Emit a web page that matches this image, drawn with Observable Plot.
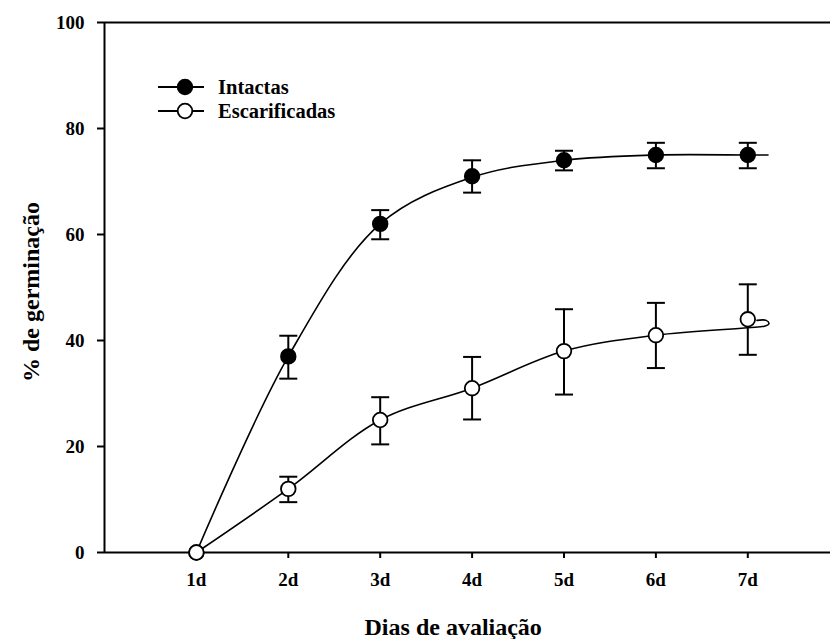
<!DOCTYPE html>
<html><head><meta charset="utf-8">
<script src="https://cdn.jsdelivr.net/npm/d3@7"></script>
<script src="https://cdn.jsdelivr.net/npm/@observablehq/plot@0.6"></script>
<style>
body{margin:0;background:#fff;}
#wrap{position:relative;width:831px;height:639px;font-family:"Liberation Serif","Times New Roman",serif;font-weight:bold;color:#000;}
.lbl{position:absolute;white-space:nowrap;}
</style></head><body><div id="wrap"></div>
<script>
// ---- data ----
const days = [1, 2, 3, 4, 5, 6, 7];
const dayLabels = ["1d", "2d", "3d", "4d", "5d", "6d", "7d"];
const yTicks = [0, 20, 40, 60, 80, 100];
const intactas = [0, 37, 62, 71, 74, 75, 75];
const intactasLo = [0, 32.8, 59.1, 67.9, 72.1, 72.5, 72.5];
const intactasHi = [0, 40.9, 64.6, 74.0, 75.8, 77.3, 77.3];
const escar = [0, 12, 25, 31, 38, 41, 44];
const escarLo = [0, 9.5, 20.4, 25.1, 29.8, 34.8, 37.3];
const escarHi = [0, 14.3, 29.3, 36.9, 45.9, 47.1, 50.6];
// fitted curves
const intactasCurveX = [1, 2, 3, 4, 5, 6, 7, 7.22];
const intactasCurveY = [0, 37, 62, 70.8, 74, 75, 75, 75];
const escarCurveX = [1, 2, 3, 4, 5, 6, 7, 7.18, 7.23, 7.2, 7.1];
const escarCurveY = [0, 12, 25, 31, 38, 41, 42.4, 42.7, 43.2, 43.8, 43.8];
const seriesNames = ["Intactas", "Escarificadas"];

// ---- tables ----
const pts = [];
days.forEach((d, i) => {
  pts.push({s: "Intactas", x: d, y: intactas[i], lo: intactasLo[i], hi: intactasHi[i]});
  pts.push({s: "Escarificadas", x: d, y: escar[i], lo: escarLo[i], hi: escarHi[i]});
});
const errPts = pts.filter(p => p.hi > p.lo);
const caps = errPts.flatMap(p => [{x: p.x, v: p.lo}, {x: p.x, v: p.hi}]);
const curveI = intactasCurveX.map((x, i) => ({x, y: intactasCurveY[i]}));
const curveE = escarCurveX.map((x, i) => ({x, y: escarCurveY[i]}));
const fill = {Intactas: "black", Escarificadas: "white"};

// horizontal-bar symbol for error-bar caps
const capSymbol = {draw(ctx, size) { const w = Math.sqrt(size / Math.PI); ctx.moveTo(-w, 0); ctx.lineTo(w, 0); }};

const font = "Liberation Serif";
const chart = Plot.plot({
  width: 831, height: 639,
  marginLeft: 104, marginRight: 1, marginTop: 22, marginBottom: 87,
  x: {type: "linear", domain: [0, 7.9], axis: null},
  y: {type: "linear", domain: [0, 100], axis: null},
  style: {fontFamily: font, fontWeight: "bold", background: "white", color: "black", overflow: "visible"},
  marks: [
    Plot.axisY({ticks: yTicks, tickSize: 7, tickPadding: 13, fontSize: 19, strokeWidth: 2, label: null, tickFormat: d => String(d)}),
    Plot.axisX({ticks: days, tickSize: 6, tickPadding: 14, fontSize: 19, strokeWidth: 2, label: null, tickFormat: d => dayLabels[days.indexOf(d)]}),
    Plot.ruleY([0], {strokeWidth: 2}),
    Plot.ruleY([100], {strokeWidth: 2}),
    Plot.ruleX([0], {strokeWidth: 2}),
    Plot.line(curveI, {x: "x", y: "y", curve: "catmull-rom", strokeWidth: 1.6}),
    Plot.line(curveE, {x: "x", y: "y", curve: "catmull-rom", strokeWidth: 1.6}),
    Plot.ruleX(errPts, {x: "x", y1: "lo", y2: "hi", strokeWidth: 2}),
    Plot.dot(caps, {x: "x", y: "v", r: 9, symbol: capSymbol, stroke: "black", fill: "none", strokeWidth: 2}),
    Plot.dot(pts, {x: "x", y: "y", r: 7.3, fill: d => fill[d.s], stroke: "black", strokeWidth: 1.8})
  ]
});
chart.style.position = "absolute"; chart.style.left = "0px"; chart.style.top = "0px";
const wrap = document.getElementById("wrap");
wrap.appendChild(chart);
const xs = chart.scale("x"), ys = chart.scale("y");

// axis titles
const xt = document.createElement("div");
xt.className = "lbl"; xt.textContent = "Dias de avaliação";
xt.style.cssText += "font-size:24px;left:" + xs.apply(3.8) + "px;top:614px;transform:translateX(-50%);";
wrap.appendChild(xt);
const yt = document.createElement("div");
yt.className = "lbl"; yt.textContent = "% de germinação";
yt.style.cssText += "font-size:24px;left:31px;top:" + ys.apply(49) + "px;transform:translate(-50%,-50%) rotate(-90deg);";
wrap.appendChild(yt);

// legend
const legend = document.createElement("div");
legend.style.cssText = "position:absolute;left:157px;top:75px;";
seriesNames.forEach((n, i) => {
  const row = document.createElement("div");
  row.style.cssText = "display:flex;align-items:center;height:24px;";
  row.innerHTML = `<svg width="48" height="20" style="margin-right:13px"><line x1="1" x2="47" y1="10" y2="10" stroke="black" stroke-width="1.8"/><circle cx="28" cy="10" r="7.3" fill="${fill[n]}" stroke="black" stroke-width="1.8"/></svg><span style="font-size:20.5px">${n}</span>`;
  legend.appendChild(row);
});
wrap.appendChild(legend);
</script></body></html>
